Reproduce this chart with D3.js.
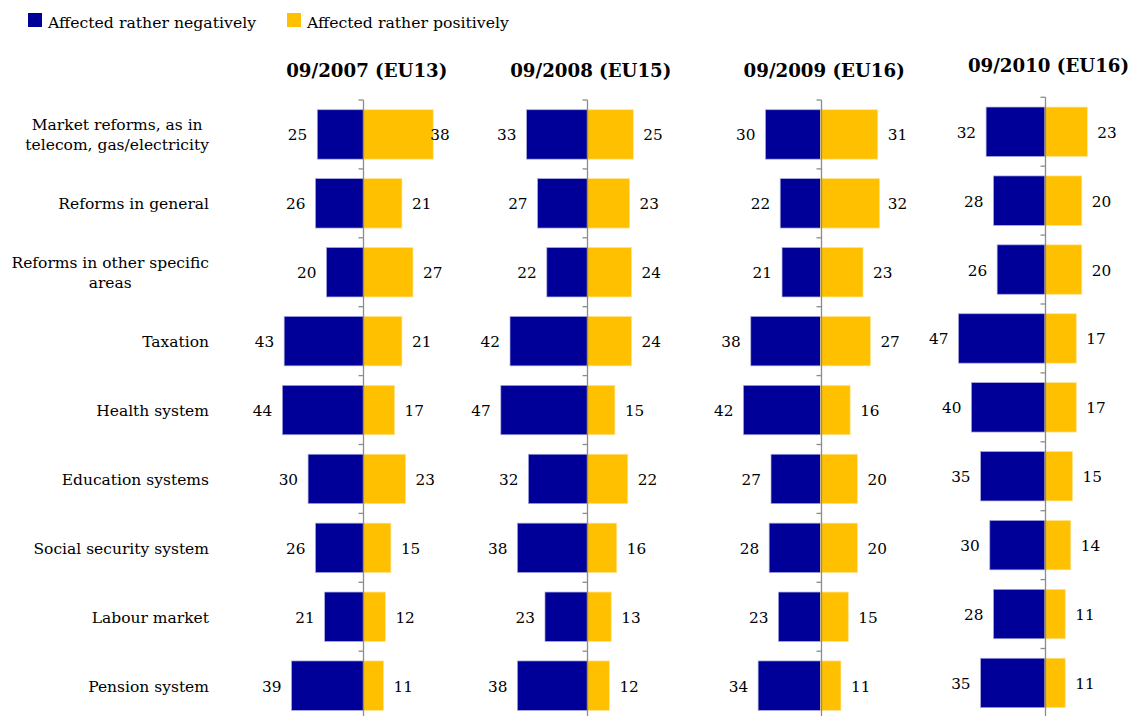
<!DOCTYPE html>
<html>
<head>
<meta charset="utf-8">
<script src="https://cdn.jsdelivr.net/npm/d3@7/dist/d3.min.js"></script>
<style>
  html, body { margin: 0; padding: 0; background: #ffffff; }
  svg { display: block; font-family: "DejaVu Serif", "Liberation Serif", serif; }
</style>
</head>
<body>
<svg id="chart" width="1135" height="716"></svg>
<script>
// Categories (top to bottom)
const categories = [
  "Market reforms, as in telecom, gas/electricity",
  "Reforms in general",
  "Reforms in other specific areas",
  "Taxation",
  "Health system",
  "Education systems",
  "Social security system",
  "Labour market",
  "Pension system"
];

// Survey waves
const waves = ["09/2007 (EU13)", "09/2008 (EU15)", "09/2009 (EU16)", "09/2010 (EU16)"];

// Share affected rather negatively, per wave (%)
const negative2007 = [25, 26, 20, 43, 44, 30, 26, 21, 39];
const negative2008 = [33, 27, 22, 42, 47, 32, 38, 23, 38];
const negative2009 = [30, 22, 21, 38, 42, 27, 28, 23, 34];
const negative2010 = [32, 28, 26, 47, 40, 35, 30, 28, 35];

// Share affected rather positively, per wave (%)
const positive2007 = [38, 21, 27, 21, 17, 23, 15, 12, 11];
const positive2008 = [25, 23, 24, 24, 15, 22, 16, 13, 12];
const positive2009 = [31, 32, 23, 27, 16, 20, 20, 15, 11];
const positive2010 = [23, 20, 20, 17, 17, 15, 14, 11, 11];

const seriesNames = ["Affected rather negatively", "Affected rather positively"];

const negatives = [negative2007, negative2008, negative2009, negative2010];
const positives = [positive2007, positive2008, positive2009, positive2010];

const colorNeg = "#000099";
const colorPos = "#FFC000";

const svg = d3.select("#chart");

// Panel layout: axis position and vertical offset of each wave
const panels = [
  { cx: 363.3, dy: 0 },
  { cx: 587.3, dy: 0 },
  { cx: 820.7, dy: 0 },
  { cx: 1045,  dy: -2.7 }
];

const plotTop = 100, step = 68.9;
const y = d3.scaleBand()
  .domain(categories)
  .range([plotTop, plotTop + step * categories.length])
  .paddingInner(0.283)
  .paddingOuter(0.1415);

// Legend
const legend = svg.append("g").attr("class", "legend");
const legendX = [28, 287];
seriesNames.forEach((name, i) => {
  const g = legend.append("g").attr("transform", `translate(${legendX[i]},13)`);
  g.append("rect").attr("width", 14).attr("height", 14)
    .attr("fill", i === 0 ? colorNeg : colorPos);
  g.append("text").attr("x", 20).attr("y", 14.5)
    .attr("font-size", 15.7).attr("fill", "#000").text(name);
});

// Category labels: block right-aligned, lines centred within the block
const labelRight = 209;
const labelFont = 15.5;
const catG = svg.append("g").attr("class", "categories");

function wrapLines(text, maxW) {
  const probe = catG.append("text").attr("font-size", labelFont);
  const words = text.split(" ");
  const lines = [];
  let line = [];
  words.forEach(w => {
    const trial = line.concat([w]).join(" ");
    probe.text(trial);
    if (line.length && probe.node().getComputedTextLength() > maxW) {
      lines.push(line.join(" "));
      line = [w];
    } else {
      line.push(w);
    }
  });
  if (line.length) lines.push(line.join(" "));
  const widths = lines.map(l => { probe.text(l); return probe.node().getComputedTextLength(); });
  probe.remove();
  return { lines, widths };
}

categories.forEach(c => {
  const { lines, widths } = wrapLines(c, 202);
  const blockW = d3.max(widths);
  const mid = labelRight - blockW / 2;
  const cy = y(c) + y.bandwidth() / 2;
  const lh = 20;
  const first = cy + 6 - (lines.length - 1) * lh / 2;
  const t = catG.append("text")
    .attr("font-size", labelFont)
    .attr("text-anchor", "middle")
    .attr("fill", "#000");
  lines.forEach((l, i) => {
    t.append("tspan").attr("x", mid).attr("y", first + i * lh).text(l);
  });
});

// Panels
panels.forEach((p, k) => {
  const x = d3.scaleLinear().domain([-50, 50]).range([p.cx - 92, p.cx + 92]);
  const g = svg.append("g").attr("transform", `translate(0,${p.dy})`);

  // Title
  svg.append("text")
    .attr("x", p.cx + 3.5)
    .attr("y", 76.5 + p.dy * 1.8)
    .attr("text-anchor", "middle")
    .attr("font-size", 18.2)
    .attr("font-weight", "bold")
    .attr("fill", "#000")
    .text(waves[k]);

  const rows = categories.map((c, i) => ({ c, neg: negatives[k][i], pos: positives[k][i] }));

  // Negative bars
  g.selectAll("rect.neg").data(rows).join("rect")
    .attr("class", "neg")
    .attr("x", d => x(-d.neg))
    .attr("y", d => y(d.c))
    .attr("width", d => x(0) - x(-d.neg))
    .attr("height", y.bandwidth())
    .attr("fill", colorNeg)
    .attr("stroke", "#a9a9dd")
    .attr("stroke-width", 0.7);

  // Positive bars
  g.selectAll("rect.pos").data(rows).join("rect")
    .attr("class", "pos")
    .attr("x", x(0))
    .attr("y", d => y(d.c))
    .attr("width", d => x(d.pos) - x(0))
    .attr("height", y.bandwidth())
    .attr("fill", colorPos)
    .attr("stroke", "#ffe390")
    .attr("stroke-width", 0.7);

  // Value labels
  g.selectAll("text.neg").data(rows).join("text")
    .attr("class", "neg")
    .attr("x", d => x(-d.neg) - 10)
    .attr("y", d => y(d.c) + y.bandwidth() / 2 + 6)
    .attr("text-anchor", "end")
    .attr("font-size", 15.3)
    .attr("fill", "#000")
    .text(d => d.neg);

  g.selectAll("text.pos").data(rows).join("text")
    .attr("class", "pos")
    .attr("x", d => Math.min(x(d.pos) + 10, p.cx + 67))
    .attr("y", d => y(d.c) + y.bandwidth() / 2 + 6)
    .attr("text-anchor", "start")
    .attr("font-size", 15.3)
    .attr("fill", "#000")
    .text(d => d.pos);

  // Category axis along zero, ticks at band boundaries
  const x0 = Math.round(x(0)) + 0.5;
  const y0 = plotTop, y1 = plotTop + step * categories.length;
  g.append("line")
    .attr("x1", x0).attr("x2", x0)
    .attr("y1", y0).attr("y2", y1)
    .attr("stroke", "#8c8c8c").attr("stroke-width", 1.3);
  g.selectAll("line.tick").data(d3.range(categories.length + 1)).join("line")
    .attr("class", "tick")
    .attr("x1", x0 - 5).attr("x2", x0)
    .attr("y1", i => y0 + i * step).attr("y2", i => y0 + i * step)
    .attr("stroke", "#8c8c8c").attr("stroke-width", 1.3);
});
</script>
</body>
</html>
